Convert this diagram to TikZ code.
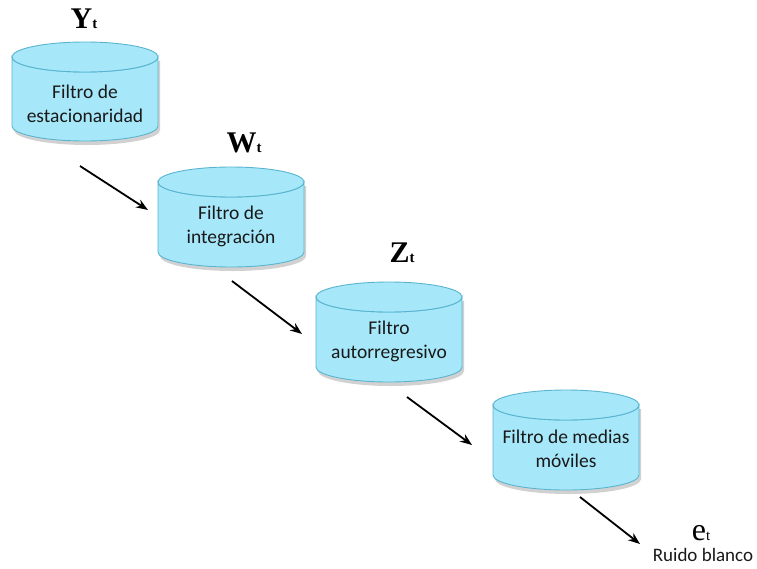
\documentclass[tikz,border=0pt]{standalone}
\usepackage{fontspec}
\setmainfont{Carlito}
\newfontfamily\tms{Liberation Serif}
\usetikzlibrary{arrows.meta}
\definecolor{cylfill}{HTML}{A6E8FA}
\definecolor{cyledge}{HTML}{5AB4D0}
\tikzset{
  cylbody/.style={fill=cylfill,draw=cyledge,line width=0.9pt},
  cylshadow/.style={fill=black,opacity=0.18},
  cyltext/.style={font=\fontsize{19.5}{24}\selectfont,align=center,text=black!90},
  flowarrow/.style={-{Stealth[length=12pt,width=9pt]},line width=1.8pt},
  biglabel/.style={font=\tms\bfseries\fontsize{30}{30}\selectfont,inner sep=0pt,anchor=base},
}
% \mycyl{name}{center x}{top}{bottom}
\newcommand{\mycyl}[4]{%
  \fill[cylshadow] (#2-73+2,#3+15+4) -- (#2-73+2,#4-15+4) arc[start angle=180,end angle=0,x radius=73,y radius=15] -- (#2+73+2,#3+15+4) -- cycle;
  \path[cylbody] (#2-73,#3+15) -- (#2-73,#4-15) arc[start angle=180,end angle=0,x radius=73,y radius=15] -- (#2+73,#3+15) arc[start angle=0,end angle=180,x radius=73,y radius=15] -- cycle;
  \path[cylbody] (#2,#3+15) ellipse[x radius=73,y radius=15];
  \coordinate (#1) at (#2,{(#3+#4)/2});
}
\begin{document}
\begin{tikzpicture}[x=1pt,y=-1pt]
\useasboundingbox (0,0) rectangle (757,568);
\mycyl{c1}{85}{42}{141}
\mycyl{c2}{231}{167}{267}
\mycyl{c3}{389}{282}{382}
\mycyl{c4}{566}{390}{490}
\node[cyltext] (t1) at (85,104) {Filtro de\\estacionaridad};
\node[cyltext] (t2) at (231,226) {Filtro de\\integración};
\node[cyltext] (t3) at (389,341) {Filtro\\autorregresivo};
\node[cyltext] (t4) at (566,449) {Filtro de medias\\móviles};
\node[biglabel] (y) at (84,28) {Y\fontsize{15}{15}\selectfont t};
\node[biglabel] (w) at (244,152) {W\fontsize{15}{15}\selectfont t};
\node[biglabel] (z) at (402,262) {Z\fontsize{15}{15}\selectfont t};
\node[font=\tms\fontsize{32}{32}\selectfont,inner sep=0pt,anchor=base] (e) at (701,540) {e\fontsize{15}{15}\selectfont t};
\node[font=\fontsize{19}{22}\selectfont,text=black!90,inner sep=1pt] (rb) at (703,555) {Ruido blanco};
\coordinate (a1s) at (80,166); \coordinate (a1e) at (148,210);
\coordinate (a2s) at (232,281); \coordinate (a2e) at (302,334);
\coordinate (a3s) at (407,397); \coordinate (a3e) at (472,445);
\coordinate (a4s) at (580,497); \coordinate (a4e) at (640,544);
\draw[flowarrow] (a1s) -- (a1e);
\draw[flowarrow] (a2s) -- (a2e);
\draw[flowarrow] (a3s) -- (a3e);
\draw[flowarrow] (a4s) -- (a4e);
\end{tikzpicture}
\end{document}
